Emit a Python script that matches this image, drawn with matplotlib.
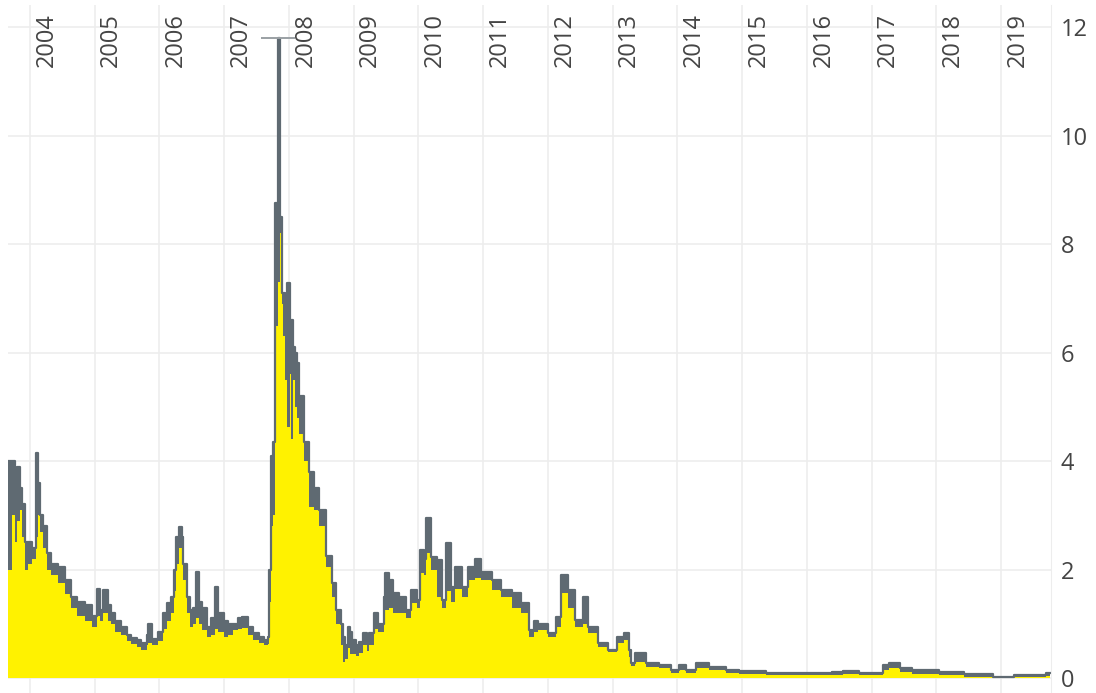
import matplotlib
matplotlib.use("Agg")
import matplotlib.pyplot as plt
import matplotlib.transforms as mtransforms

plt.rcParams["font.family"] = ["Open Sans", "DejaVu Sans"]

# Data (decimal year, high, close)
dates = [
    2003.66, 2003.72, 2003.77, 2003.80, 2003.84, 2003.88, 2003.92, 2003.97,
    2004.03, 2004.09, 2004.12, 2004.15, 2004.20, 2004.26, 2004.32, 2004.43,
    2004.54, 2004.63, 2004.72, 2004.85, 2004.95, 2005.03, 2005.08, 2005.12,
    2005.20, 2005.25, 2005.32, 2005.40, 2005.50, 2005.56, 2005.65, 2005.71,
    2005.80, 2005.83, 2005.88, 2005.97, 2006.05, 2006.11, 2006.17, 2006.22,
    2006.26, 2006.30, 2006.34, 2006.37, 2006.42, 2006.47, 2006.51, 2006.57,
    2006.61, 2006.66, 2006.74, 2006.80, 2006.85, 2006.90, 2007.00, 2007.06,
    2007.13, 2007.22, 2007.28, 2007.37, 2007.44, 2007.53, 2007.62, 2007.67,
    2007.69, 2007.72, 2007.75, 2007.79, 2007.83, 2007.86, 2007.89, 2007.91,
    2007.94, 2007.97, 2008.01, 2008.03, 2008.06, 2008.09, 2008.12, 2008.16,
    2008.23, 2008.31, 2008.39, 2008.46, 2008.57, 2008.66, 2008.73, 2008.80,
    2008.83, 2008.87, 2008.91, 2008.94, 2008.98, 2009.04, 2009.08, 2009.15,
    2009.20, 2009.23, 2009.31, 2009.38, 2009.46, 2009.49, 2009.54, 2009.60,
    2009.70, 2009.80, 2009.89, 2009.97, 2010.03, 2010.08, 2010.11, 2010.19,
    2010.28, 2010.36, 2010.42, 2010.50, 2010.57, 2010.67, 2010.77, 2010.88,
    2010.97, 2011.13, 2011.28, 2011.44, 2011.59, 2011.70, 2011.79, 2011.85,
    2012.00, 2012.12, 2012.20, 2012.31, 2012.42, 2012.54, 2012.62, 2012.78,
    2012.93, 2013.06, 2013.17, 2013.25, 2013.29, 2013.35, 2013.51, 2013.71,
    2013.90, 2014.02, 2014.13, 2014.29, 2014.49, 2014.75, 2014.95, 2015.37,
    2016.39, 2016.55, 2016.81, 2017.17, 2017.27, 2017.43, 2017.63, 2018.04,
    2018.43, 2018.88, 2019.20, 2019.70, 2019.75,
]
high = [
    4.0, 4.0, 3.1, 3.9, 3.5, 3.2, 2.5, 2.5,
    2.4, 4.15, 3.6, 3.0, 2.8, 2.3, 2.1, 2.05,
    1.8, 1.5, 1.4, 1.35, 1.15, 1.65, 1.25, 1.62,
    1.35, 1.2, 1.05, 0.94, 0.8, 0.74, 0.7, 0.65,
    0.8, 1.0, 0.72, 0.85, 1.2, 1.38, 1.5, 2.0,
    2.6, 2.78, 2.6, 2.1, 1.5, 1.25, 1.3, 1.95,
    1.4, 1.3, 0.94, 1.1, 1.68, 1.2, 1.05, 1.0,
    1.0, 1.1, 1.13, 0.95, 0.83, 0.75, 0.7, 0.75,
    2.0, 4.1, 4.35, 8.75, 11.8, 8.5, 7.1, 7.1,
    6.9, 7.28, 6.5, 6.6, 6.1, 6.0, 5.8, 5.2,
    4.35, 3.8, 3.5, 3.1, 2.25, 1.75, 1.25, 1.0,
    0.75, 0.6, 0.95, 0.85, 0.7, 0.6, 0.66, 0.83,
    0.65, 0.83, 1.2, 1.0, 1.5, 1.93, 1.8, 1.56,
    1.5, 1.25, 1.62, 1.44, 2.36, 2.2, 2.95, 2.23,
    2.17, 1.44, 2.49, 1.68, 2.05, 1.68, 2.05, 2.2,
    1.96, 1.8, 1.62, 1.56, 1.38, 0.88, 1.05, 1.0,
    0.83, 1.13, 1.9, 1.62, 1.07, 1.5, 0.94, 0.65,
    0.52, 0.76, 0.83, 0.52, 0.28, 0.46, 0.28, 0.24,
    0.15, 0.24, 0.15, 0.28, 0.2, 0.15, 0.13, 0.1,
    0.11, 0.13, 0.1, 0.24, 0.28, 0.18, 0.15, 0.11,
    0.07, 0.01, 0.05, 0.1, 0.1,
]
close = [
    2.0, 3.0, 2.5, 2.9, 3.1, 2.6, 2.0, 2.1,
    2.2, 2.6, 3.0, 2.7, 2.4, 2.0, 1.9, 1.75,
    1.55, 1.3, 1.15, 1.05, 0.95, 1.15, 1.05, 1.2,
    1.05, 1.0, 0.85, 0.8, 0.68, 0.62, 0.58, 0.52,
    0.6, 0.64, 0.6, 0.68, 0.9, 1.05, 1.2, 1.6,
    2.1, 2.4, 2.2, 1.8, 1.2, 0.94, 1.0, 1.1,
    1.0, 0.88, 0.76, 0.8, 0.9, 0.85, 0.76, 0.8,
    0.88, 0.9, 0.92, 0.8, 0.7, 0.65, 0.61, 0.62,
    1.4, 2.8, 3.0, 6.5, 7.3, 8.2, 6.9, 6.3,
    5.5, 4.63, 5.6, 4.4, 5.5, 5.0, 4.8, 4.5,
    4.0, 3.15, 3.1, 2.8, 2.05, 1.5, 1.0, 0.6,
    0.3, 0.35, 0.55, 0.45, 0.45, 0.4, 0.46, 0.6,
    0.5, 0.6, 0.9, 0.85, 1.1, 1.25, 1.3, 1.2,
    1.2, 1.1, 1.38, 1.3, 1.93, 1.9, 2.3, 2.0,
    1.5, 1.3, 1.6, 1.4, 1.65, 1.5, 1.8, 1.85,
    1.8, 1.62, 1.5, 1.3, 1.2, 0.76, 0.85, 0.88,
    0.75, 0.95, 1.56, 1.3, 0.94, 1.0, 0.83, 0.57,
    0.48, 0.65, 0.7, 0.39, 0.22, 0.3, 0.2, 0.18,
    0.09, 0.15, 0.1, 0.18, 0.15, 0.1, 0.07, 0.05,
    0.06, 0.08, 0.05, 0.14, 0.18, 0.12, 0.08, 0.06,
    0.02, 0.0, 0.02, 0.04, 0.04,
]
years = list(range(2004, 2020))
y_ticks = [0, 2, 4, 6, 8, 10, 12]

# spike with cap
spike_date = 2007.83
spike_high = 11.8

YELLOW = "#fff200"
GRAY = "#5f6a72"
GRID = "#ededed"
TEXT = "#444444"

fig = plt.figure(figsize=(10.96, 6.93), dpi=100)
ax = fig.add_axes([8 / 1096, 0, 1043 / 1096, 688 / 693])

ax.fill_between(dates, close, high, step="post", color=GRAY, lw=0)
ax.step(dates, high, where="post", color=GRAY, lw=1.6)
ax.fill_between(dates, 0, close, step="post", color=YELLOW, lw=0)
ax.errorbar([spike_date], [spike_high], yerr=[[0], [0]], fmt="none",
            ecolor="#9aa0a4", capsize=12, capthick=1.2)

ax.set_xlim(2003.66, 2019.77)
ax.set_ylim(-0.276, 12.41)

ax.set_xticks(years)
ax.set_yticks(y_ticks)
ax.grid(True, color=GRID, lw=1.2)
ax.set_axisbelow(True)
ax.tick_params(axis="x", length=0, labelbottom=False)
ax.yaxis.tick_right()
ax.tick_params(axis="y", length=0, pad=7, labelsize=17, labelcolor=TEXT)
for side in ["top", "left", "bottom"]:
    ax.spines[side].set_visible(False)
ax.spines["right"].set_color(GRID)

# year labels along the top, rotated
offset = mtransforms.ScaledTranslation(0.165, 0, fig.dpi_scale_trans)
trans = mtransforms.blended_transform_factory(ax.transData, ax.transAxes) + offset
for yr in years:
    ax.text(yr, 0.949, str(yr), transform=trans, rotation=90,
            ha="center", va="center", fontsize=17, color=TEXT)

fig.savefig("out.png", dpi=100)
